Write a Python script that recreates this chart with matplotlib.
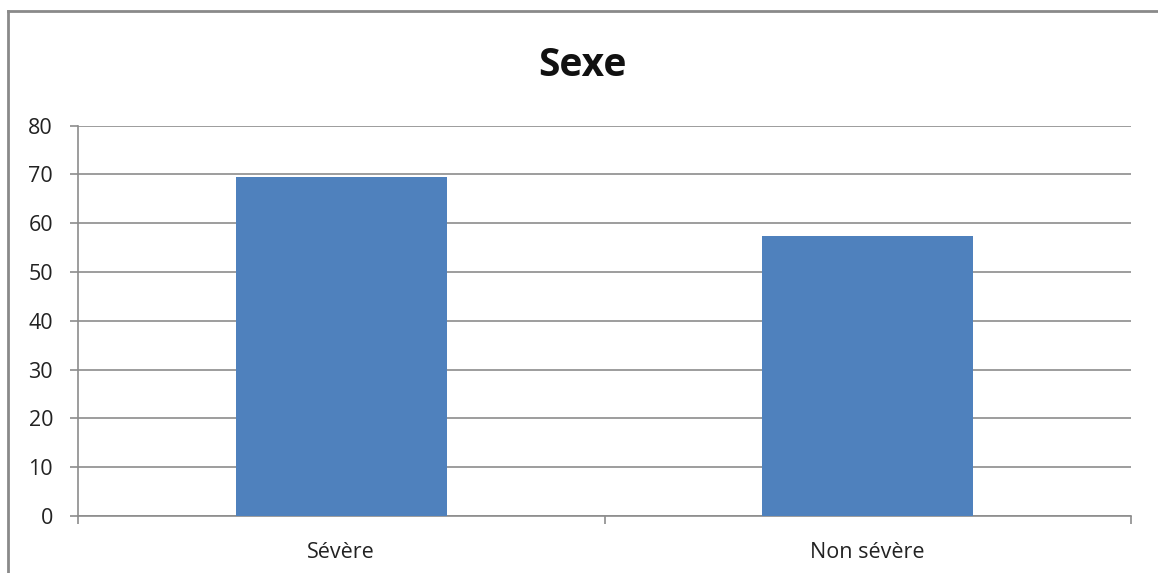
import matplotlib.pyplot as plt
from matplotlib.lines import Line2D

categories = ['Sévère', 'Non sévère']
values = [69.4, 57.3]
yticks = [0, 10, 20, 30, 40, 50, 60, 70, 80]

plt.rcParams['font.family'] = ['Open Sans', 'DejaVu Sans']

fig = plt.figure(figsize=(11.58, 5.73), dpi=100)
ax = fig.add_axes([78 / 1158, 1 - 516 / 573, (1131 - 78) / 1158, (516 - 125.7) / 573])

grey = '#8c8c8c'
ax.bar(range(len(categories)), values, width=0.4, color='#4f81bd', zorder=3)

ax.set_xlim(-0.5, len(categories) - 0.5)
ax.set_ylim(0, 80)
ax.set_yticks(yticks)
ax.grid(axis='y', color=grey, linewidth=1.2, zorder=0)

# category labels centred, tick marks on the category boundaries
ax.set_xticks(range(len(categories)))
ax.set_xticklabels(categories)
ax.set_xticks([-0.5, 0.5, 1.5], minor=True)
ax.tick_params(axis='x', which='major', length=0, pad=19, labelsize=15.5, labelcolor='#222222')
ax.tick_params(axis='x', which='minor', length=6, width=1.2, color=grey, direction='out')
ax.tick_params(axis='y', length=6, width=1.2, color=grey, pad=12, labelsize=15.5, labelcolor='#222222')

for side in ['top', 'right']:
    ax.spines[side].set_visible(False)
for side in ['left', 'bottom']:
    ax.spines[side].set_color(grey)
    ax.spines[side].set_linewidth(1.2)

fig.text(0.503, 1 - 66 / 573, 'Sexe', ha='center', va='center',
         fontsize=28, fontweight='bold', color='#111111')

# chart frame
fig.add_artist(Line2D([8 / 1158, 1], [1 - 11 / 573, 1 - 11 / 573], color='#8a8a8a', linewidth=2))
fig.add_artist(Line2D([8 / 1158, 8 / 1158], [0, 1 - 11 / 573], color='#8a8a8a', linewidth=2))

fig.savefig('out.png', dpi=100)
